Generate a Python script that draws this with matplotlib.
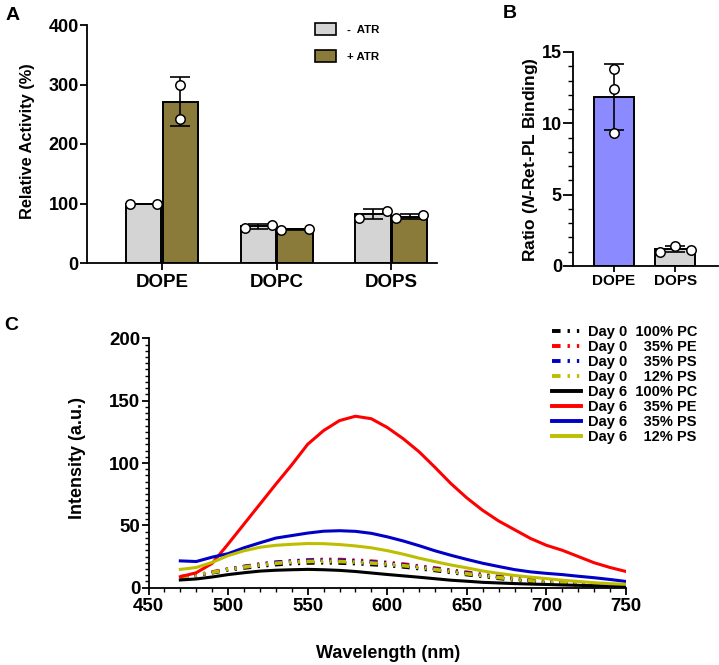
import numpy as np
import matplotlib
matplotlib.use("Agg")
import matplotlib.pyplot as plt
from matplotlib.patches import Patch
from matplotlib.lines import Line2D
from matplotlib.ticker import MultipleLocator

plt.rcParams["font.family"] = ["Liberation Sans", "DejaVu Sans"]
plt.rcParams["font.weight"] = "bold"
plt.rcParams["mathtext.fontset"] = "custom"
plt.rcParams["mathtext.rm"] = "Liberation Sans:bold"
plt.rcParams["mathtext.it"] = "Liberation Sans:italic:bold"

# panel A: relative activity, two replicates per bar
lipids_a = ["DOPE", "DOPC", "DOPS"]
minus_atr = [[100, 100], [59, 64], [76, 88]]
plus_atr = [[300, 242], [56, 57], [75, 81]]

# panel B: N-Ret-PL binding ratio, three replicates
lipids_b = ["DOPE", "DOPS"]
ratio_pts = [[13.8, 12.4, 9.3], [1.0, 1.4, 1.15]]

# panel C: emission spectra (read every 10 nm)
wavelength = list(range(470, 751, 10))
d0_pc = [8.8, 10.0, 12.0, 14.2, 15.8, 17.3, 18.5, 19.3, 19.8, 20.0, 19.8, 19.3, 18.6, 17.8,
         16.7, 15.3, 13.8, 12.2, 10.5, 9.0, 7.5, 6.2, 5.0, 3.9, 3.1, 2.4, 1.8, 1.3, 0.9]
d0_pe = [8.5, 10.2, 12.6, 15.0, 17.0, 18.9, 20.4, 21.5, 22.2, 22.7, 22.6, 22.1, 21.3, 20.3,
         19.0, 17.4, 15.8, 14.1, 12.4, 10.6, 9.0, 7.5, 6.2, 5.0, 4.2, 3.5, 2.9, 2.4, 2.0]
d0_ps35 = [7.5, 9.6, 12.2, 14.8, 16.9, 18.8, 20.3, 21.3, 21.9, 22.1, 21.9, 21.4, 20.6, 19.6,
           18.3, 16.8, 15.2, 13.5, 11.8, 10.1, 8.6, 7.1, 5.8, 4.7, 3.9, 3.2, 2.6, 2.1, 1.7]
d0_ps12 = [8.5, 10.0, 12.3, 14.6, 16.5, 18.2, 19.6, 20.5, 21.0, 21.2, 21.0, 20.5, 19.8, 18.9,
           17.7, 16.2, 14.6, 12.9, 11.2, 9.6, 8.1, 6.7, 5.5, 4.4, 3.6, 2.9, 2.3, 1.8, 1.4]
d6_pc = [6.2, 7.0, 8.6, 10.5, 12.0, 13.3, 14.0, 14.4, 14.7, 14.4, 13.9, 13.0, 11.8, 10.6,
         9.5, 8.4, 7.2, 6.0, 5.2, 4.3, 3.8, 3.3, 2.9, 2.6, 2.2, 1.9, 1.6, 1.4, 1.2]
d6_pe = [8.8, 12.0, 19.5, 35.0, 51.0, 67.0, 83.0, 98.5, 115.0, 126.0, 134.0, 137.5, 135.5, 128.5,
         119.5, 109.0, 96.5, 83.5, 72.0, 62.0, 53.5, 46.5, 39.5, 34.0, 30.0, 25.0, 20.0, 16.2, 13.0]
d6_ps35 = [21.5, 21.0, 24.5, 27.3, 32.0, 36.0, 39.8, 41.8, 43.8, 45.3, 45.7, 45.2, 43.6, 40.8,
           37.5, 33.7, 29.6, 26.0, 22.7, 19.6, 17.0, 14.5, 12.7, 11.5, 10.5, 9.2, 8.0, 6.6, 5.0]
d6_ps12 = [14.7, 16.2, 20.3, 25.7, 29.6, 32.4, 34.0, 34.8, 35.4, 35.3, 34.6, 33.5, 32.0, 29.7,
           26.9, 23.7, 20.9, 18.2, 15.9, 13.4, 11.5, 9.8, 8.5, 7.3, 6.0, 5.0, 4.0, 3.2, 2.7]

W, H = 719, 665
fig = plt.figure(figsize=(W / 100, H / 100), dpi=100)


def px_axes(left, top, right, bottom):
    return fig.add_axes([left / W, 1 - bottom / H, (right - left) / W, (bottom - top) / H])


def style_axes(ax, ticklen):
    for s in ("top", "right"):
        ax.spines[s].set_visible(False)
    for s in ("left", "bottom"):
        ax.spines[s].set_linewidth(1.3)
    ax.tick_params(which="major", direction="out", length=ticklen, width=1.3, pad=1)
    ax.tick_params(which="minor", direction="out", length=ticklen * 0.55, width=1.0)


def set_ticks(ax, xt, xl, xsize, yt, ysize):
    ax.set_xticks(xt, [str(v) for v in xl], fontsize=xsize, fontweight="bold")
    ax.set_yticks(yt, [str(v) for v in yt], fontsize=ysize, fontweight="bold")


def bars_with_points(ax, xs, groups, width, color, ymax):
    means = [np.mean(g) for g in groups]
    sds = [np.std(g, ddof=1) for g in groups]
    ax.bar(xs, means, width=width, color=color, edgecolor="black", linewidth=1.4, zorder=2)
    ax.errorbar(xs, means, yerr=sds, fmt="none", ecolor="black", elinewidth=1.2,
                capsize=7, capthick=1.2, zorder=3)
    for x, g in zip(xs, groups):
        if max(g) - min(g) > 0.1 * ymax:
            px = [x] * len(g)
        else:
            px = np.linspace(x - 0.77 * width / 2, x + 0.77 * width / 2, len(g))
        ax.plot(px, g, "o", ms=6.8, mfc="white", mec="black", mew=1.1, zorder=4, clip_on=False)


# ---------- A
ax_a = px_axes(87, 25, 437, 263)
xa = np.arange(len(lipids_a))
bw = 0.31
bars_with_points(ax_a, xa - 0.16, minus_atr, bw, "#d4d4d4", 400)
bars_with_points(ax_a, xa + 0.16, plus_atr, bw, "#8b7b3a", 400)
ax_a.set_xlim(-0.655, 2.4)
ax_a.set_ylim(0, 400)
set_ticks(ax_a, xa, lipids_a, 13.5, [0, 100, 200, 300, 400], 13)
style_axes(ax_a, 5)
ax_a.tick_params(axis="x", pad=3)
ax_a.legend(handles=[Patch(facecolor="#d4d4d4", edgecolor="black", lw=1.2, label="-  ATR"),
                     Patch(facecolor="#8b7b3a", edgecolor="black", lw=1.2, label="+ ATR")],
            loc="upper left", bbox_to_anchor=(315 / W, 1 - 23 / H), bbox_transform=fig.transFigure,
            frameon=False, borderpad=0, borderaxespad=0, handlelength=1.85,
            handleheight=1.25, handletextpad=1.0, labelspacing=1.3,
            prop={"weight": "bold", "size": 8.2})
fig.text(28 / W, 1 - 141 / H, "Relative Activity (%)", rotation=90, ha="center", va="center",
         fontsize=11.8, fontweight="bold")
fig.text(13 / W, 1 - 15 / H, "A", ha="center", va="center", fontsize=14, fontweight="bold")

# ---------- B
ax_b = px_axes(573, 52, 718, 266)
xb = np.arange(len(lipids_b))
for i in range(len(lipids_b)):
    bars_with_points(ax_b, [xb[i]], [ratio_pts[i]], 0.66, ["#8b8bff", "#d4d4d4"][i], 15)
ax_b.set_xlim(-0.67, 1.7)
ax_b.set_ylim(0, 15)
set_ticks(ax_b, xb, lipids_b, 11, [0, 5, 10, 15], 13)
ax_b.yaxis.set_minor_locator(MultipleLocator(1))
style_axes(ax_b, 7)
ax_b.tick_params(axis="x", length=4, pad=2)
fig.text(530 / W, 1 - 160 / H, "Ratio ($\\mathit{N}$-Ret-PL Binding)", rotation=90, ha="center",
         va="center", fontsize=12.5, fontweight="bold")
fig.text(510 / W, 1 - 14 / H, "B", ha="center", va="center", fontsize=14, fontweight="bold")

# ---------- C
ax_c = px_axes(148.5, 338.3, 626, 587.7)
dd = (0, (2.2, 1.8, 0.6, 1.8, 0.6, 1.8))
series = [
    (d0_pc, "black", dd, "Day 0  100% PC"),
    (d0_pe, "#ff0000", dd, "Day 0    35% PE"),
    (d0_ps35, "#0000c8", dd, "Day 0    35% PS"),
    (d0_ps12, "#bebe00", dd, "Day 0    12% PS"),
    (d6_pc, "black", "-", "Day 6  100% PC"),
    (d6_pe, "#ff0000", "-", "Day 6    35% PE"),
    (d6_ps35, "#0000c8", "-", "Day 6    35% PS"),
    (d6_ps12, "#bebe00", "-", "Day 6    12% PS"),
]
handles = []
for vals, col, ls, lab in series:
    ax_c.plot(wavelength, vals, color=col, linestyle=ls, lw=2.6 if ls is dd else 2.2)
    handles.append(Line2D([], [], color=col, linestyle=ls, lw=2.8, label=lab))
ax_c.set_xlim(450, 750)
ax_c.set_ylim(0, 200)
xc = list(range(450, 751, 50))
set_ticks(ax_c, xc, xc, 13.5, list(range(0, 201, 50)), 13.5)
ax_c.xaxis.set_minor_locator(MultipleLocator(10))
ax_c.yaxis.set_minor_locator(MultipleLocator(5))
style_axes(ax_c, 5)
ax_c.tick_params(axis="x", pad=2.5)
ax_c.legend(handles=handles, loc="upper left", bbox_to_anchor=(552 / W, 1 - 325 / H),
            bbox_transform=fig.transFigure, frameon=False, borderpad=0,
            borderaxespad=0, handlelength=2.0, handletextpad=0.5, labelspacing=0.07,
            prop={"weight": "bold", "size": 10.5})
fig.text(78 / W, 1 - 458 / H, "Intensity (a.u.)", rotation=90, ha="center", va="center",
         fontsize=13, fontweight="bold")
fig.text(388 / W, 1 - 653 / H, "Wavelength (nm)", ha="center", va="center",
         fontsize=13, fontweight="bold")
fig.text(11 / W, 1 - 326 / H, "C", ha="center", va="center", fontsize=14, fontweight="bold")

fig.savefig("out.png", dpi=100)
